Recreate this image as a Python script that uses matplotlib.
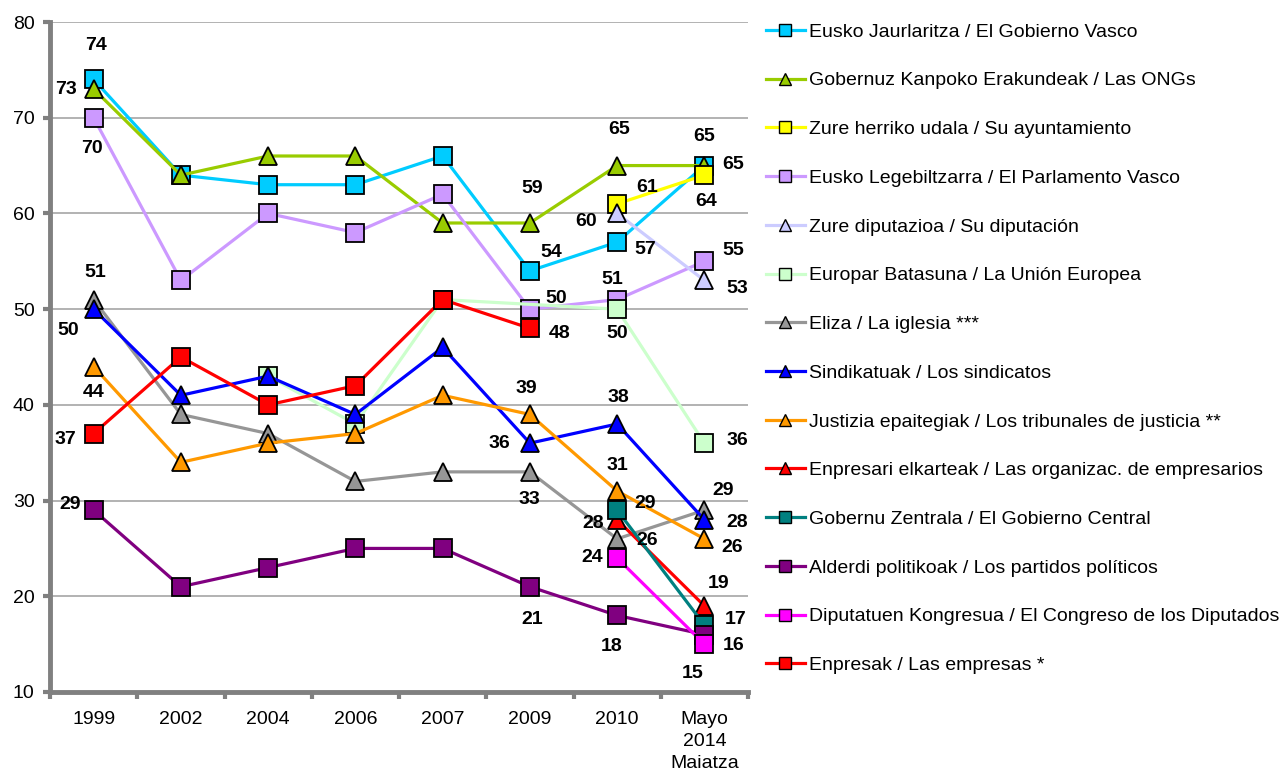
import numpy as np
import matplotlib
matplotlib.use("Agg")
import matplotlib.pyplot as plt

plt.rcParams['font.family'] = ['Liberation Sans', 'DejaVu Sans']

nan = np.nan
years = ["1999", "2002", "2004", "2006", "2007", "2009", "2010", "Mayo\n2014\nMaiatza"]

names = [
    "Eusko Jaurlaritza / El Gobierno Vasco",
    "Gobernuz Kanpoko Erakundeak / Las ONGs",
    "Zure herriko udala / Su ayuntamiento",
    "Eusko Legebiltzarra / El Parlamento Vasco",
    "Zure diputazioa / Su diputación",
    "Europar Batasuna / La Unión Europea",
    "Eliza / La iglesia ***",
    "Sindikatuak / Los sindicatos",
    "Justizia epaitegiak / Los tribunales de justicia **",
    "Enpresari elkarteak / Las organizac. de empresarios",
    "Gobernu Zentrala / El Gobierno Central",
    "Alderdi politikoak / Los partidos políticos",
    "Diputatuen Kongresua / El Congreso de los Diputados",
    "Enpresak / Las empresas *",
]

gobierno_vasco = [74, 64, 63, 63, 66, 54, 57, 65]
ongs = [73, 64, 66, 66, 59, 59, 65, 65]
ayuntamiento = [nan, nan, nan, nan, nan, nan, 61, 64]
parlamento = [70, 53, 60, 58, 62, 50, 51, 55]
diputacion = [nan, nan, nan, nan, nan, nan, 60, 53]
union_europea = [nan, nan, 43, 38, 51, nan, 50, 36]
iglesia = [51, 39, 37, 32, 33, 33, 26, 29]
sindicatos = [50, 41, 43, 39, 46, 36, 38, 28]
tribunales = [44, 34, 36, 37, 41, 39, 31, 26]
org_empresarios = [nan, nan, nan, nan, nan, nan, 28, 19]
gobierno_central = [nan, nan, nan, nan, nan, nan, 29, 17]
partidos = [29, 21, 23, 25, 25, 21, 18, 16]
congreso = [nan, nan, nan, nan, nan, nan, 24, 15]
empresas = [37, 45, 40, 42, 51, 48, nan, nan]

series = [gobierno_vasco, ongs, ayuntamiento, parlamento, diputacion, union_europea,
          iglesia, sindicatos, tribunales, org_empresarios, gobierno_central,
          partidos, congreso, empresas]

line_colors = ["#00CCFF", "#99CC00", "#FFFF00", "#CC99FF", "#CCCCFF", "#CCFFCC",
               "#969696", "#0000FF", "#FF9900", "#FF0000", "#008080", "#800080",
               "#FF00FF", "#FF0000"]
markers = ["s", "^", "s", "s", "^", "s", "^", "^", "^", "^", "s", "s", "s", "s"]

# (series index, year index, dx, dy) in pixels
labels = [
    (0, 0, 2, 34), (1, 0, -28, 0), (3, 0, -2, -31), (6, 0, 2, 27), (7, 0, -25, -21),
    (8, 0, 0, -26), (13, 0, -28, -6), (11, 0, -23, 6),
    (1, 5, 2, 35), (0, 5, 21, 18), (3, 5, 26, 11), (13, 5, 30, -5), (8, 5, -4, 26),
    (7, 5, -30, 0), (6, 5, 0, -28), (11, 5, 2, -33),
    (1, 6, 2, 36), (2, 6, 30, 16), (4, 6, -31, -8), (0, 6, 28, -7), (3, 6, -5, 20),
    (5, 6, 0, -24), (7, 6, 1, 27), (8, 6, 0, 26), (10, 6, 28, 7), (9, 6, -24, -4),
    (6, 6, 30, -2), (12, 6, -25, 0), (11, 6, -5, -31),
    (0, 7, 0, 29), (1, 7, 29, 1), (2, 7, 2, -26), (3, 7, 29, 11), (4, 7, 33, -8),
    (5, 7, 33, 3), (6, 7, 19, 20), (7, 7, 33, -3), (8, 7, 28, -9), (9, 7, 14, 22),
    (10, 7, 31, 6), (11, 7, 29, -11), (12, 7, -12, -29),
]

fig = plt.figure(figsize=(12.8, 7.69), dpi=100)
ax = fig.add_axes([50 / 1280, 1 - 692 / 769, 698 / 1280, 670 / 769])

x = np.arange(len(years))
for i, vals in enumerate(series):
    v = np.array(vals, dtype=float)
    ok = ~np.isnan(v)
    ax.plot(x[ok], v[ok], color=line_colors[i], lw=2.3, marker=markers[i],
            markersize=13, markerfacecolor=line_colors[i], markeredgecolor="black",
            markeredgewidth=1.3, zorder=3 + i)

for si, yi, dx, dy in labels:
    val = series[si][yi]
    ax.annotate(str(int(val)), (x[yi], val), xytext=(dx, dy), textcoords="offset pixels",
                ha="center", va="center", fontsize=14, fontweight="bold", color="black",
                zorder=30)

ax.set_xlim(-0.5, len(years) - 0.5)
ax.set_ylim(10, 80)
ax.set_yticks(np.arange(10, 81, 10))
ax.set_xticks(x)
ax.set_xticklabels(years, fontsize=14, linespacing=1.35)
ax.set_xticks(np.arange(-0.5, len(years), 1), minor=True)
ax.tick_params(axis="x", which="major", length=0, pad=14)
ax.tick_params(axis="x", which="minor", length=5, width=3, color="#808080")
ax.tick_params(axis="y", length=5, width=3, color="#808080", labelsize=14, pad=6)
ax.grid(axis="y", color="#A6A6A6", lw=1.2, zorder=0)
for s in ["top", "right"]:
    ax.spines[s].set_visible(False)
for s in ["left", "bottom"]:
    ax.spines[s].set_color("#808080")
    ax.spines[s].set_linewidth(3.5)

leg_handles = []
for i in range(len(series)):
    lh, = ax.plot([], [], color=line_colors[i], lw=2.3, marker=markers[i], markersize=8,
                  markerfacecolor=line_colors[i], markeredgecolor="black",
                  markeredgewidth=1)
    leg_handles.append(lh)
fig.legend(leg_handles, names, loc="upper left", bbox_to_anchor=(0.592, 0.98),
           frameon=False, fontsize=14, labelspacing=1.6, handlelength=2.05,
           handletextpad=0.2, borderaxespad=0)

fig.savefig("out.png", dpi=100)
